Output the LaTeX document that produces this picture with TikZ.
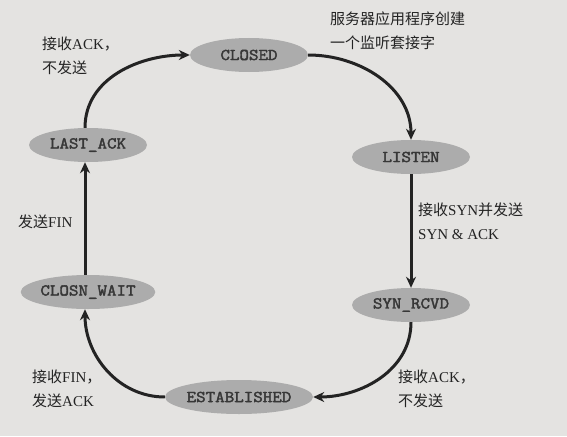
\documentclass[tikz,border=0pt]{standalone}
\usepackage{fontspec}
\setmainfont{Liberation Serif}
\newfontfamily\cjk{Noto Sans CJK SC}
\newfontfamily\monob{Latin Modern Mono}[FakeBold=2.4,FakeStretch=1.12]
\usetikzlibrary{shapes.geometric,arrows.meta}
\definecolor{pagebg}{RGB}{228,227,225}
\definecolor{statefill}{RGB}{172,172,172}
\definecolor{statetext}{RGB}{55,55,55}
\definecolor{inkline}{RGB}{35,35,35}
\newcommand{\zh}[1]{{\cjk #1}}

\begin{document}
\begin{tikzpicture}[x=1pt,y=-1pt,
	state/.style={ellipse,fill=statefill,text=statetext,minimum width=118pt,minimum height=34pt,inner sep=0pt,font=\monob\fontsize{16.5}{17}\selectfont},
	arr/.style={draw=inkline,line width=3pt,-{Stealth[length=11pt,width=10pt]}},
	lbl/.style={anchor=west,align=left,inner sep=0pt,text=inkline,font=\fontsize{15}{24}\selectfont}]
		\fill[pagebg] (0,0) rectangle (567,436);
		\useasboundingbox (0,0) rectangle (567,436);
		% the six states
		\node[state] (closed) at (249,55) {CLOSED};
		\node[state] (listen) at (411,157) {LISTEN};
		\node[state] (synrcvd) at (411,305) {SYN\_RCVD};
		\node[state] (estab) at (239,397) {ESTABLISHED};
		\node[state] (closewait) at (88,292) {CLOSN\_WAIT};
		\node[state] (lastack) at (88,145) {LAST\_ACK};
		% transitions
		\draw[arr] ([xshift=-3pt]lastack.north) to[out=90,in=180] (closed.west);
		\draw[arr] (closed.east) to[out=0,in=90] (listen.north);
		\draw[arr] (listen.south) -- (synrcvd.north);
		\draw[arr] (synrcvd.south) to[out=-90,in=0] (estab.east);
		\draw[arr] (estab.west) to[out=180,in=-90] ([xshift=-3pt]closewait.south);
		\draw[arr] ([xshift=-3pt]closewait.north) -- ([xshift=-3pt]lastack.south);
		% labels
		\node[lbl] (l1) at (42,56) {\zh{接收}ACK\zh{，}\\\zh{不发送}};
		\node[lbl] (l2) at (330,31) {\zh{服务器应用程序创建}\\\zh{一个监听套接字}};
		\node[lbl] (l3) at (418,221) {\zh{接收}SYN\zh{并发送}\\SYN \& ACK};
		\node[lbl] (l4) at (398,389) {\zh{接收}ACK\zh{，}\\\zh{不发送}};
		\node[lbl] (l5) at (32,389) {\zh{接收}FIN\zh{，}\\\zh{发送}ACK};
		\node[lbl] (l6) at (18,222) {\zh{发送}FIN};
	\end{tikzpicture}
\end{document}
